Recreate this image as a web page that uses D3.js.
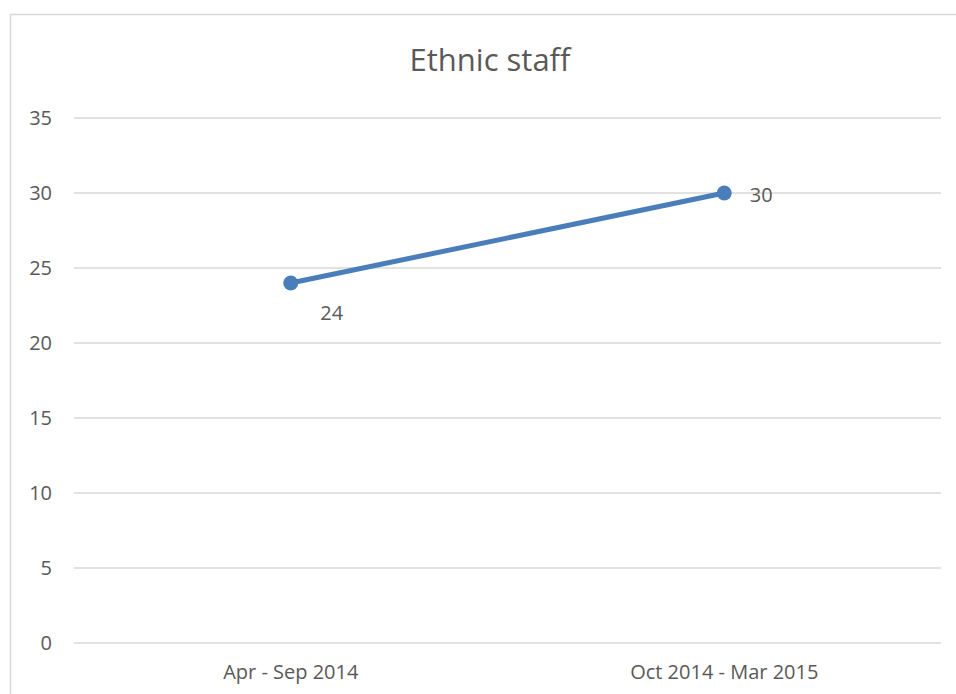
<!DOCTYPE html>
<html>
<head>
<meta charset="utf-8">
<script src="https://cdn.jsdelivr.net/npm/d3@7"></script>
<style>
  body { margin: 0; background: #fff; }
  text { font-family: "Open Sans", "Liberation Sans", sans-serif; fill: #595959; }
</style>
</head>
<body>
<div id="chart-area"></div>
<script>
// data
let categories = ["Apr - Sep 2014", "Oct 2014 - Mar 2015"];
let values = [24, 30];
let yTicks = [0, 5, 10, 15, 20, 25, 30, 35];
let chartTitle = "Ethnic staff";

let W = 956, H = 694;
let margin = {top: 118, right: 15, bottom: 51, left: 74};
let width = W - margin.left - margin.right,
	height = H - margin.top - margin.bottom;

let svg = d3.select("#chart-area").append("svg")
	.attr("width", W)
	.attr("height", H);

// chart frame (top + left visible)
svg.append("path")
	.attr("d", "M10.5," + H + " V14.5 H" + W)
	.attr("fill", "none")
	.attr("stroke", "#d9d9d9")
	.attr("stroke-width", 1.5);

svg.append("text")
	.attr("x", 490)
	.attr("y", 71)
	.attr("text-anchor", "middle")
	.style("font-size", "31px")
	.text(chartTitle);

let g = svg.append("g")
	.attr("transform", "translate(" + margin.left + "," + margin.top + ")");

let x = d3.scaleBand()
	.domain(categories)
	.range([0, width]);

let y = d3.scaleLinear()
	.domain([0, 35])
	.range([height, 0]);

// gridlines
g.selectAll(".grid").data(yTicks)
	.enter().append("line")
	.attr("class", "grid")
	.attr("x1", 0)
	.attr("x2", width)
	.attr("y1", d => y(d))
	.attr("y2", d => y(d))
	.attr("stroke", "#d9d9d9")
	.attr("stroke-width", 1.3);

let yAxis = d3.axisLeft(y).tickValues(yTicks).tickSize(0).tickPadding(22);
g.append("g").attr("class", "axis y-axis").call(yAxis)
	.call(a => a.select(".domain").remove())
	.selectAll("text").style("font-size", "20px").attr("fill", "#595959");

let xAxis = d3.axisBottom(x).tickSize(0).tickPadding(22);
g.append("g").attr("class", "axis x-axis")
	.attr("transform", "translate(0," + height + ")")
	.call(xAxis)
	.call(a => a.select(".domain").remove())
	.selectAll("text").style("font-size", "20px").attr("fill", "#595959");

let pts = categories.map((c, i) => ({c: c, v: values[i]}));

let line = d3.line()
	.x(d => x(d.c) + x.bandwidth() / 2)
	.y(d => y(d.v));

g.append("path")
	.datum(pts)
	.attr("d", line)
	.attr("fill", "none")
	.attr("stroke", "#4a7ebb")
	.attr("stroke-width", 5)
	.attr("stroke-linecap", "round");

g.selectAll(".dot").data(pts)
	.enter().append("circle")
	.attr("class", "dot")
	.attr("cx", d => x(d.c) + x.bandwidth() / 2)
	.attr("cy", d => y(d.v))
	.attr("r", 7.5)
	.attr("fill", "#4a7ebb");

// data labels: first below-right, second to the right
let labelOffsets = [[41, 37], [37, 9]];
g.selectAll(".lbl").data(pts)
	.enter().append("text")
	.attr("class", "lbl")
	.attr("x", (d, i) => x(d.c) + x.bandwidth() / 2 + labelOffsets[i][0])
	.attr("y", (d, i) => y(d.v) + labelOffsets[i][1])
	.attr("text-anchor", "middle")
	.style("font-size", "20px")
	.attr("fill", "#404040")
	.text(d => d.v);
</script>
</body>
</html>
